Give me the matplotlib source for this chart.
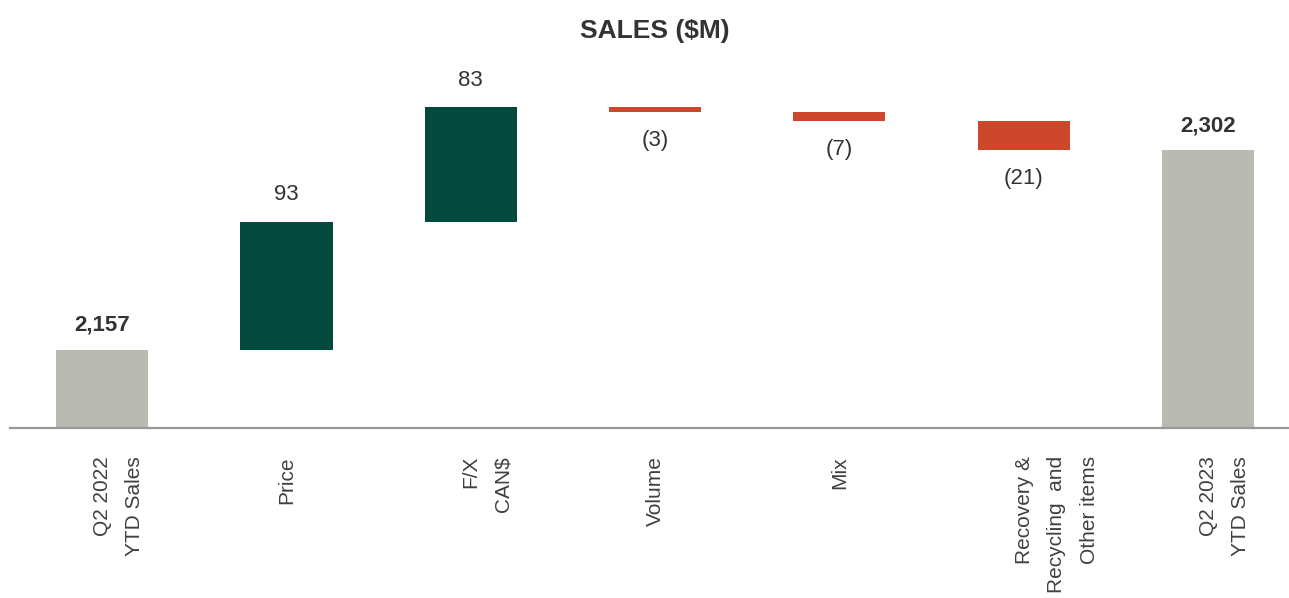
import matplotlib
matplotlib.use("Agg")
from matplotlib import pyplot as plt
from matplotlib import transforms

# sales bridge, $M
categories = ["Q2 2022\nYTD Sales", "Price", "F/X\nCAN$", "Volume", "Mix",
              "Recovery &\nRecycling  and\nOther items", "Q2 2023\nYTD Sales"]
values = [2157, 93, 83, -3, -7, -21, 2302]
is_total = [True, False, False, False, False, False, True]
value_labels = ["2,157", "93", "83", "(3)", "(7)", "(21)", "2,302"]

GREEN = "#03493C"
RED = "#CD472C"
GREY = "#B9BAB1"
FONT = ["Liberation Sans", "DejaVu Sans"]

fig = plt.figure(figsize=(12.89, 5.98), dpi=100)
ax = fig.add_axes([10 / 1289, 170 / 598, 1279 / 1289, 408 / 598])

# work out bottoms / heights for the waterfall
bottoms = []
heights = []
colors = []
running = 0
for v, tot in zip(values, is_total):
    if tot:
        bottoms.append(0)
        heights.append(v)
        colors.append(GREY)
        running = v
    else:
        if v >= 0:
            bottoms.append(running)
            heights.append(v)
            colors.append(GREEN)
        else:
            bottoms.append(running + v)
            heights.append(-v)
            colors.append(RED)
        running += v

x = list(range(len(categories)))
ax.bar(x, heights, bottom=bottoms, width=0.5, color=colors)

ax.set_ylim(2100, 2100 + 408 / 1.376)
ax.set_xlim(-0.5, 6.44)

for i in x:
    top = bottoms[i] + heights[i]
    if is_total[i]:
        ax.annotate(value_labels[i], (i, top), xytext=(0, 10), textcoords="offset points",
                    ha="center", va="bottom", fontsize=16, fontweight="bold",
                    family=FONT, color="#333333")
    elif values[i] >= 0:
        ax.annotate(value_labels[i], (i, top), xytext=(0, 12), textcoords="offset points",
                    ha="center", va="bottom", fontsize=16, family=FONT, color="#333333")
    else:
        ax.annotate(value_labels[i], (i, bottoms[i]), xytext=(0, -13), textcoords="offset points",
                    ha="center", va="top", fontsize=16, family=FONT, color="#333333")

for s in ["top", "right", "left"]:
    ax.spines[s].set_visible(False)
ax.spines["bottom"].set_color("#999999")
ax.spines["bottom"].set_linewidth(1.6)
ax.set_yticks([])
ax.set_xticks([])

# category labels, rotated; first line sits on the bar centre, extra lines go right
base = transforms.blended_transform_factory(ax.transData, ax.transAxes)
for i, cat in enumerate(categories):
    n = cat.count("\n")
    shift = transforms.ScaledTranslation(n * 16.5 / 100, -28 / 100, fig.dpi_scale_trans)
    ax.text(i, 0, cat, transform=base + shift, rotation=90, rotation_mode="anchor",
            ha="right", va="center", multialignment="right", fontsize=15,
            family=FONT, color="#404040", linespacing=1.9)

fig.text(0.508, 0.948, "SALES ($M)", ha="center", va="center", fontsize=19,
         fontweight="bold", family=FONT, color="#333333")

fig.savefig("out.png", dpi=100)
